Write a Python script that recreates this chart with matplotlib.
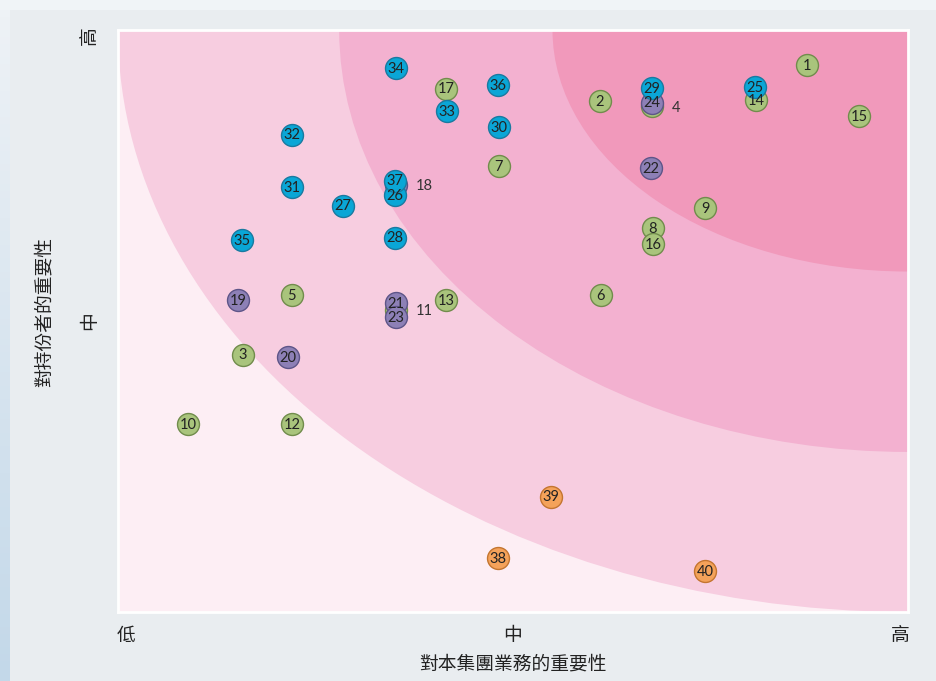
import matplotlib
matplotlib.use('Agg')
import matplotlib.pyplot as plt
import numpy as np
from matplotlib.patches import Ellipse, Rectangle
from matplotlib.colors import LinearSegmentedColormap

plt.rcParams['font.family'] = ['Noto Sans CJK TC', 'DejaVu Sans']

# issue numbers and their scores (x: importance to group business, y: importance to stakeholders)
ids = list(range(1, 41))
xs = [8.72, 6.10, 1.58, 6.76, 2.20, 6.11, 4.82, 6.77, 7.43, 0.89,
      3.52, 2.20, 4.15, 8.08, 9.38, 6.77, 4.15, 3.52, 1.52, 2.15,
      3.52, 6.75, 3.52, 6.76, 8.06, 3.51, 2.85, 3.51, 6.76, 4.82,
      2.20, 2.20, 4.16, 3.52, 1.57, 4.81, 3.51, 4.81, 5.48, 7.43]
ys = [9.40, 8.78, 4.42, 8.69, 5.45, 5.45, 7.66, 6.60, 6.94, 3.23,
      5.19, 3.23, 5.36, 8.80, 8.52, 6.32, 8.99, 7.34, 5.36, 4.38,
      5.31, 7.63, 5.07, 8.75, 9.02, 7.16, 6.98, 6.43, 9.00, 8.33,
      7.30, 8.20, 8.61, 9.35, 6.39, 9.05, 7.41, 0.93, 1.98, 0.70]
groups = ['g'] * 17 + ['p'] * 7 + ['b'] * 13 + ['o'] * 3
hidden = [4, 11, 18]  # markers covered by others, label shown beside

x_ticks = [0.1, 5, 9.9]
x_labels = ['低', '中', '高']
y_ticks = [9.9, 5.0]
y_labels = ['高', '中']

face = {'g': '#a9c47c', 'p': '#8d80b6', 'b': '#0aa6d6', 'o': '#f4a25a'}
edge = {'g': '#718c4c', 'p': '#5e5588', 'b': '#1a7aa0', 'o': '#c47530'}

fig = plt.figure(figsize=(9.36, 6.81), dpi=100)
fig.patch.set_facecolor('#f0f4f7')
fig.add_artist(Rectangle((10 / 936, 0), 1, 1 - 10 / 681, transform=fig.transFigure,
                         facecolor='#e9edf0', edgecolor='none', zorder=0))
# left edge strip, light at top to bluish at bottom
strip = fig.add_axes([0, 0, 10 / 936, 1 - 10 / 681])
strip.imshow(np.linspace(0, 1, 100).reshape(-1, 1), aspect='auto',
             cmap=LinearSegmentedColormap.from_list('s', ['#eef2f6', '#c3d8e9']))
strip.axis('off')

ax = fig.add_axes([118 / 936, 69 / 681, 790 / 936, 582 / 681])
ax.set_xlim(0, 10)
ax.set_ylim(0, 10)
ax.set_facecolor('#fdeef4')

# concentric zones from the top-right corner
for (rx, ry), col in zip([(10, 10), (7.2, 7.25), (4.5, 4.15)],
                         ['#f7cde0', '#f3b1d0', '#f199bb']):
    ax.add_patch(Ellipse((10, 10), 2 * rx, 2 * ry, facecolor=col, edgecolor='none', zorder=1))

for g in ['g', 'p', 'b', 'o']:
    gx = [x for x, k in zip(xs, groups) if k == g]
    gy = [y for y, k in zip(ys, groups) if k == g]
    ax.scatter(gx, gy, s=250, c=face[g], edgecolors=edge[g], linewidths=1, zorder=3)

for i, x, y in zip(ids, xs, ys):
    if i in hidden:
        ax.annotate(str(i), (x, y), xytext=(14, -1), textcoords='offset points',
                    ha='left', va='center', fontsize=10.5, family='Lato',
                    color='#333333', zorder=5)
    else:
        ax.annotate(str(i), (x, y), xytext=(0, -0.5), textcoords='offset points',
                    ha='center', va='center', fontsize=10.5, family='Lato',
                    color='#222222', zorder=5)

for s in ax.spines.values():
    s.set_color('white')
    s.set_linewidth(2)

ax.set_xticks(x_ticks)
ax.set_xticklabels(x_labels, fontsize=13.5, color='#222222')
ax.set_yticks(y_ticks)
ax.set_yticklabels(y_labels, fontsize=13.5, color='#222222', rotation=90, va='center')
ax.tick_params(axis='x', length=0, pad=9)
ax.tick_params(axis='y', length=0, pad=13)
ax.set_xlabel('對本集團業務的重要性', fontsize=13.5, color='#222222', labelpad=6)
ax.set_ylabel('對持份者的重要性', fontsize=13.5, color='#222222')
ax.yaxis.set_label_coords(-0.08, 0.515)

fig.savefig('out.png', dpi=100, facecolor=fig.get_facecolor())
